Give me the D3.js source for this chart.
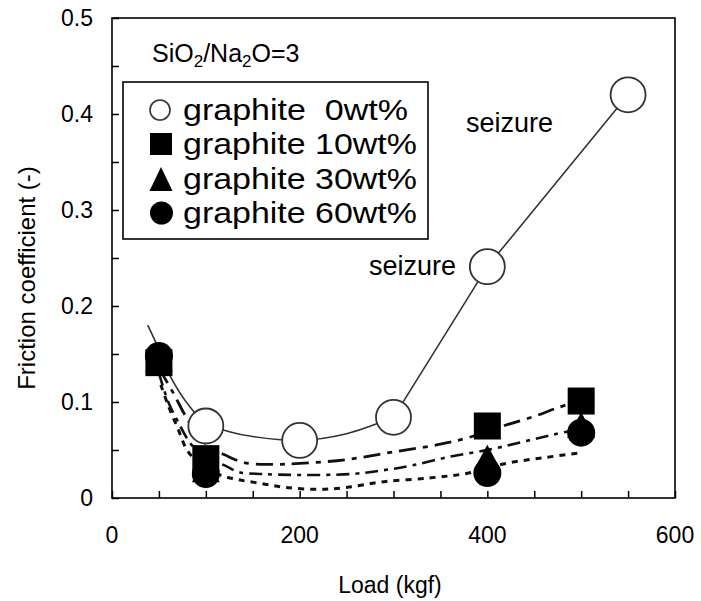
<!DOCTYPE html>
<html>
<head>
<meta charset="utf-8">
<script src="https://cdn.jsdelivr.net/npm/d3@7"></script>
<style>
html,body{margin:0;padding:0;background:#fff;}
svg{display:block;}
text{font-family:"Liberation Sans",Arial,Helvetica,sans-serif;fill:#000;}
</style>
</head>
<body>
<svg id="chart" width="701" height="601"></svg>
<script>
// ---- data ----
const xTicks = [0, 200, 400, 600];
const yTicks = [0, 0.1, 0.2, 0.3, 0.4, 0.5];
const seriesNames = ["graphite\u00a0 0wt%", "graphite 10wt%", "graphite 30wt%", "graphite 60wt%"];

const load0 = [100, 200, 300, 400, 550];
const mu0 = [0.075, 0.060, 0.084, 0.241, 0.420];

const loadG = [50, 100, 400, 500];
const mu10 = [0.141, 0.041, 0.075, 0.101];
const mu30 = [0.145, 0.030, 0.042, 0.076];
const mu60 = [0.148, 0.025, 0.026, 0.068];

// fitted guide curves
const fit0Curve = [[38,0.180],[50,0.155],[62,0.127],[83,0.095],[100,0.078],[125,0.069],[150,0.064],[200,0.060],[250,0.067],[300,0.084]];
const fit0Line = [[300,0.084],[400,0.241],[550,0.420]];
const fit10 = [[50,0.135],[65,0.110],[78,0.086],[90,0.068],[105,0.052],[120,0.045],[140,0.037],[170,0.035],[200,0.036],[250,0.040],[300,0.048],[350,0.056],[380,0.063],[420,0.076],[450,0.085],[475,0.094],[500,0.102]];
const fit30 = [[50,0.130],[60,0.100],[70,0.080],[85,0.055],[100,0.042],[120,0.034],[135,0.027],[160,0.025],[200,0.024],[255,0.025],[290,0.029],[320,0.034],[360,0.043],[405,0.051],[440,0.059],[470,0.066],[500,0.072]];
const fit60 = [[52,0.118],[60,0.096],[70,0.073],[80,0.050],[95,0.034],[115,0.024],[135,0.019],[160,0.015],[185,0.011],[220,0.009],[250,0.011],[290,0.017],[340,0.021],[380,0.026],[420,0.036],[460,0.042],[500,0.047]];

// ---- layout ----
const svg = d3.select("#chart");
const L = 112, R = 675, T = 18, B = 498;
const x = d3.scaleLinear().domain([0, 600]).range([L, R]);
const y = d3.scaleLinear().domain([0, 0.5]).range([B, T]);

// axes (inward ticks)
const xAxis = d3.axisBottom(x).tickValues(d3.range(0, 601, 50)).tickSize(-7).tickFormat("");
const yAxis = d3.axisLeft(y).tickValues(d3.range(0, 0.5001, 0.05)).tickSize(-7).tickFormat("");
svg.append("g").attr("transform", `translate(0,${B})`).call(xAxis)
  .call(g => { g.select(".domain").remove(); g.selectAll("line").attr("stroke", "#000").attr("stroke-width", 1.5); });
svg.append("g").attr("transform", `translate(${L},0)`).call(yAxis)
  .call(g => { g.select(".domain").remove(); g.selectAll("line").attr("stroke", "#000").attr("stroke-width", 1.5); });

svg.append("rect").attr("x", L).attr("y", T).attr("width", R - L).attr("height", B - T)
  .attr("fill", "none").attr("stroke", "#000").attr("stroke-width", 1.6);

// tick labels
svg.selectAll(".xl").data(xTicks).enter().append("text")
  .attr("x", d => x(d)).attr("y", 543).attr("text-anchor", "middle")
  .attr("font-size", 23).text(d => d);
svg.selectAll(".yl").data(yTicks).enter().append("text")
  .attr("x", 93).attr("y", d => y(d) + 8).attr("text-anchor", "end")
  .attr("font-size", 23).text(d => d === 0 ? "0" : d3.format(".1f")(d));

// axis titles
svg.append("text").attr("x", 390).attr("y", 593).attr("text-anchor", "middle")
  .attr("font-size", 23).text("Load (kgf)");
svg.append("text").attr("transform", "translate(35,278) rotate(-90)").attr("text-anchor", "middle")
  .attr("font-size", 24).text("Friction coefficient (-)");

// lines
const lineC = d3.line().x(d => x(d[0])).y(d => y(d[1])).curve(d3.curveCatmullRom.alpha(0.5));
const lineL = d3.line().x(d => x(d[0])).y(d => y(d[1]));

svg.append("path").attr("d", lineC(fit60)).attr("fill", "none").attr("stroke", "#111")
  .attr("stroke-width", 3).attr("stroke-dasharray", "6,6");
svg.append("path").attr("d", lineC(fit30)).attr("fill", "none").attr("stroke", "#111")
  .attr("stroke-width", 2.6).attr("stroke-dasharray", "13,6,4,6");
svg.append("path").attr("d", lineC(fit10)).attr("fill", "none").attr("stroke", "#111")
  .attr("stroke-width", 2.8).attr("stroke-dasharray", "17,7,5,7");
svg.append("path").attr("d", lineC(fit0Curve)).attr("fill", "none").attr("stroke", "#333").attr("stroke-width", 1.6);
svg.append("path").attr("d", lineL(fit0Line)).attr("fill", "none").attr("stroke", "#333").attr("stroke-width", 1.6);

// markers
const triPath = (w, h) => `M0,${-h/2}L${w/2},${h/2}L${-w/2},${h/2}Z`;

svg.selectAll(".m60").data(loadG.map((l, i) => [l, mu60[i]])).enter().append("circle")
  .attr("cx", d => x(d[0])).attr("cy", d => y(d[1])).attr("r", 14).attr("fill", "#000");
svg.selectAll(".m30").data(loadG.map((l, i) => [l, mu30[i]])).enter().append("path")
  .attr("transform", d => `translate(${x(d[0])},${y(d[1])})`).attr("d", triPath(28, 26)).attr("fill", "#000");
svg.selectAll(".m10").data(loadG.map((l, i) => [l, mu10[i]])).enter().append("rect")
  .attr("x", d => x(d[0]) - 13.5).attr("y", d => y(d[1]) - 13.5).attr("width", 27).attr("height", 27).attr("fill", "#000");
svg.selectAll(".m0").data(load0.map((l, i) => [l, mu0[i]])).enter().append("circle")
  .attr("cx", d => x(d[0])).attr("cy", d => y(d[1])).attr("r", 17.5)
  .attr("fill", "#fff").attr("stroke", "#333").attr("stroke-width", 1.8);

// annotations
svg.append("text").attr("x", 466).attr("y", 132).attr("font-size", 27).text("seizure");
svg.append("text").attr("x", 369).attr("y", 275).attr("font-size", 27).text("seizure");

const t = svg.append("text").attr("x", 152).attr("y", 62).attr("font-size", 25);
t.append("tspan").text("SiO");
t.append("tspan").attr("font-size", 17).attr("dy", 5).text("2");
t.append("tspan").attr("dy", -5).text("/Na");
t.append("tspan").attr("font-size", 17).attr("dy", 5).text("2");
t.append("tspan").attr("dy", -5).text("O=3");

// legend
svg.append("rect").attr("x", 123).attr("y", 82).attr("width", 305).attr("height", 157)
  .attr("fill", "#fff").attr("stroke", "#000").attr("stroke-width", 1.6);
const rowY = [110, 144, 179, 213];
const rowW = [225, 234, 234, 234];
svg.append("circle").attr("cx", 160).attr("cy", rowY[0]).attr("r", 10)
  .attr("fill", "#fff").attr("stroke", "#333").attr("stroke-width", 1.6);
svg.append("rect").attr("x", 150).attr("y", rowY[1] - 11).attr("width", 22).attr("height", 22).attr("fill", "#000");
svg.append("path").attr("transform", `translate(161,${rowY[2]})`).attr("d", triPath(23, 24)).attr("fill", "#000");
svg.append("circle").attr("cx", 161.5).attr("cy", rowY[3]).attr("r", 11.5).attr("fill", "#000");
svg.selectAll(".lg").data(seriesNames).enter().append("text")
  .attr("x", 183).attr("y", (d, i) => rowY[i] + 10).attr("font-size", 29.5)
  .attr("textLength", (d, i) => rowW[i]).attr("lengthAdjust", "spacingAndGlyphs")
  .style("white-space", "pre").text(d => d);
</script>
</body>
</html>
